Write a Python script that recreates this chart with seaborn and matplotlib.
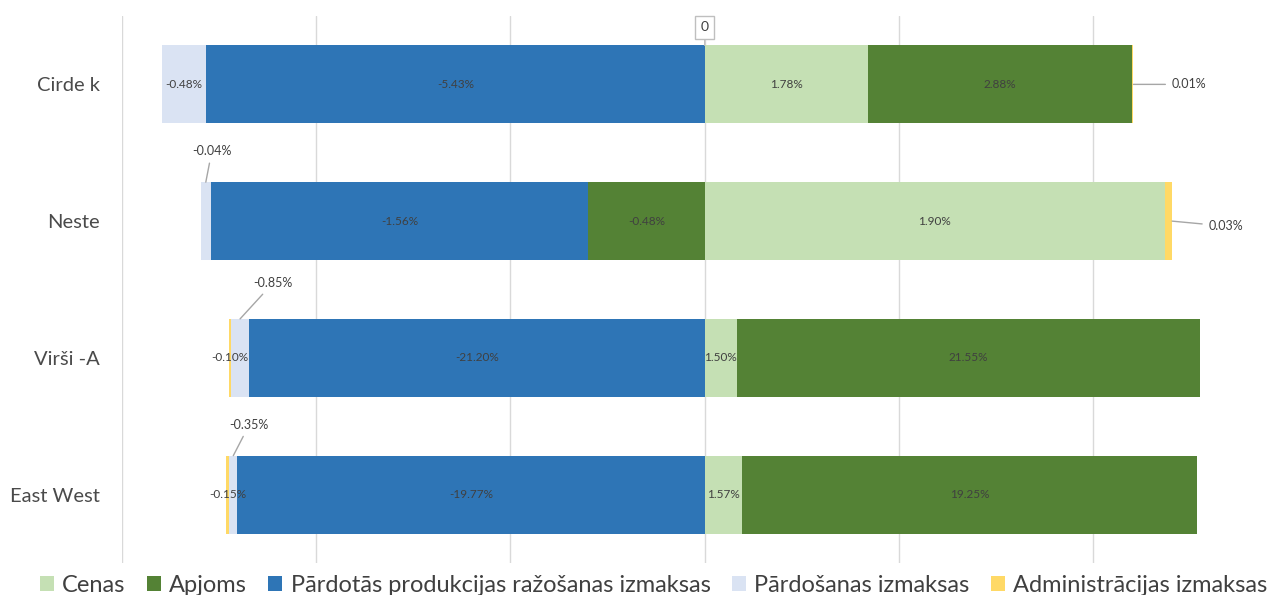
import numpy as np
import pandas as pd
import matplotlib
matplotlib.use("Agg")
import matplotlib.pyplot as plt
from matplotlib.patches import Patch
import seaborn as sns

# ---------- data ----------
companies = ["Cirde k", "Neste", "Virši -A", "East West"]
series_names = ["Cenas", "Apjoms", "Pārdotās produkcijas ražošanas izmaksas",
                "Pārdošanas izmaksas", "Administrācijas izmaksas"]
cenas = [1.78, 1.90, 1.50, 1.57]
apjoms = [2.88, -0.48, 21.55, 19.25]
pardotas = [-5.43, -1.56, -21.20, -19.77]
pardosanas = [-0.48, -0.04, -0.85, -0.35]
admin = [0.01, 0.03, -0.10, -0.15]

colors = ["#C5E0B4", "#548235", "#2E75B6", "#DAE3F3", "#FFD966"]

# ---------- style ----------
sns.set_theme(style="white")
plt.rcParams["font.family"] = ["Lato", "DejaVu Sans"]
txt_col = "#404040"

values = np.array([cenas, apjoms, pardotas, pardosanas, admin])  # series x company
totals = np.abs(values).sum(axis=0)
shares = values / totals * 100  # each row normalised to 100 %

# stack positives to the right, negatives to the left (Excel order)
starts = np.zeros_like(shares)
ends = np.zeros_like(shares)
pos_acc = np.zeros(len(companies))
neg_acc = np.zeros(len(companies))
for i in range(len(series_names)):
    s = shares[i]
    st = np.where(s >= 0, pos_acc, neg_acc)
    starts[i] = st
    ends[i] = st + s
    pos_acc = np.where(s >= 0, pos_acc + s, pos_acc)
    neg_acc = np.where(s < 0, neg_acc + s, neg_acc)

fig = plt.figure(figsize=(12.69, 5.95), dpi=100)
ax = fig.add_axes([122 / 1269, 1 - 563 / 595, 1 - 122 / 1269, (563 - 16) / 595])

bar_w = 0.57
# overlay cumulative bars from the outermost series inwards
for i in reversed(range(len(series_names))):
    df = pd.DataFrame({"company": companies, "end": ends[i]})
    sns.barplot(data=df, x="end", y="company", orient="h", color=colors[i],
                width=bar_w, saturation=1, linewidth=0, edgecolor="none",
                ax=ax, zorder=2)

ax.set_xlim(-60, 58.1)
ax.set_ylim(3.5, -0.5)
ax.set_xticks(np.arange(-60, 41, 20))
ax.set_xticklabels([])
ax.xaxis.grid(True, color="#D9D9D9", lw=1)
ax.set_axisbelow(True)
for sp in ax.spines.values():
    sp.set_visible(False)
ax.set_xlabel("")
ax.set_ylabel("")
ax.tick_params(axis="y", length=0, pad=16, labelsize=14.5, labelcolor="#4a4a4a")
ax.tick_params(axis="x", length=0)

# ---------- data labels ----------
# callouts: (series, company) -> (anchor, dx, dy) in pixels
callouts = {
    (3, 1): ("top", 6, 31),
    (3, 2): ("top", 33, 36),
    (3, 3): ("top", 16, 31),
    (4, 0): ("end", 38, 0),
    (4, 1): ("end", 36, -5),
}
for i in range(len(series_names)):
    for j in range(len(companies)):
        lab = f"{values[i, j]:.2f}%"
        mid = (starts[i, j] + ends[i, j]) / 2
        if (i, j) in callouts:
            kind, dx, dy = callouts[(i, j)]
            if kind == "top":
                xy = (mid, j - bar_w / 2)
                ha = "center"
            else:
                xy = (ends[i, j], j)
                ha = "left"
            ax.annotate(lab, xy=xy, xytext=(dx, dy), textcoords="offset pixels",
                        ha=ha, va="center", fontsize=9, color=txt_col,
                        arrowprops=dict(arrowstyle="-", color="#A6A6A6", lw=1,
                                        shrinkA=2, shrinkB=0))
        else:
            ax.text(mid, j, lab, ha="center", va="center", fontsize=8.5, color=txt_col)

# zero marker label
ax.annotate("0", xy=(0, -bar_w / 2), xytext=(0, 18), textcoords="offset pixels",
            ha="center", va="center", fontsize=10, color=txt_col,
            bbox=dict(boxstyle="square,pad=0.4", fc="white", ec="#BFBFBF", lw=1),
            arrowprops=dict(arrowstyle="-", color="#BFBFBF", lw=1, shrinkA=0, shrinkB=0))

# ---------- legend ----------
handles = [Patch(facecolor=c, edgecolor="none") for c in colors]
fig.legend(handles, series_names, loc="lower center", bbox_to_anchor=(0.515, -0.037),
           ncol=5, frameon=False, fontsize=17, handlelength=0.6, handleheight=0.6,
           handletextpad=0.35, columnspacing=0.9, labelcolor="#404040")

fig.savefig("out.png", dpi=100)
